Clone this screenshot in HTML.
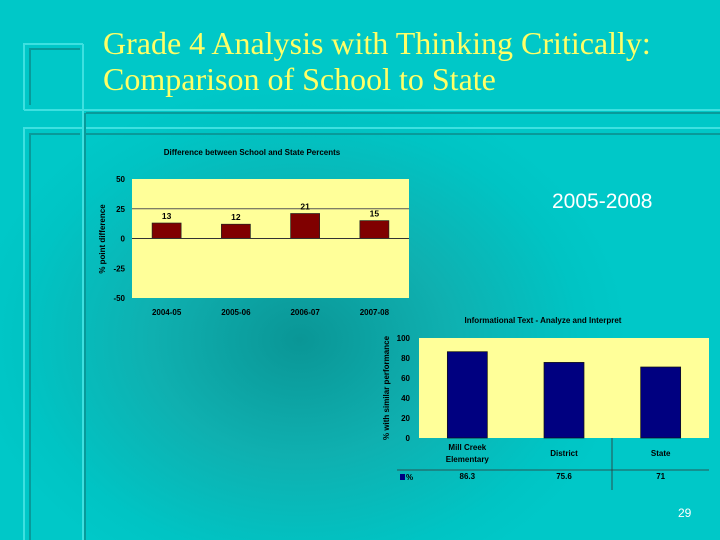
<!DOCTYPE html>
<html><head><meta charset="utf-8"><style>
body{margin:0;width:720px;height:540px;overflow:hidden;font-family:"Liberation Sans",sans-serif}
#bg{position:absolute;left:0;top:0;width:720px;height:540px;background:radial-gradient(ellipse 330px 260px at 300px 340px,#0a9696 0%,#0fb0b0 45%,#00c4c4 85%,#00c8c8 100%)}
.t{position:absolute;font-family:"Liberation Serif",serif;color:#ffff66;font-size:32px;left:103px;line-height:36px;white-space:nowrap}
</style></head><body>
<div id="bg"></div>
<svg width="720" height="540" style="position:absolute;left:0;top:0">
<g fill="none" stroke-width="2">
<path d="M24 110V44H83" stroke="#3ee0e0"/>
<path d="M30 105V49H80" stroke="#089a9a"/>
<path d="M24 110H720" stroke="#3ee0e0"/>
<path d="M86 113H720" stroke="#089a9a"/>
<path d="M24 540V128H720" stroke="#3ee0e0"/>
<path d="M30 540V134H80M86 134H720" stroke="#089a9a"/>
<path d="M83 44V540" stroke="#3ee0e0"/>
<path d="M85 113V540" stroke="#089a9a"/>
</g></svg>
<div class="t" style="top:25px">Grade 4 Analysis with Thinking Critically:</div>
<div class="t" style="top:61px">Comparison of School to State</div>
<div style="position:absolute;left:552px;top:190px;color:#fff;font-size:21px">2005-2008</div>
<div style="position:absolute;left:678px;top:506px;color:#fff;font-size:12px">29</div>
<svg id="c" width="720" height="540" style="position:absolute;left:0;top:0" font-family="Liberation Sans, sans-serif" font-weight="bold"></svg>
<script>
const cats1=["2004-05","2005-06","2006-07","2007-08"];
const vals1=[13,12,21,15];
const ticks1=[50,25,0,-25,-50];
const cats2=[["Mill Creek","Elementary"],["District"],["State"]];
const vals2=[86.3,75.6,71];
const labels2=["86.3","75.6","71"];
const ticks2=[100,80,60,40,20,0];
const svg=document.getElementById('c');
const NS='http://www.w3.org/2000/svg';
function mk(t,a,txt){const e=document.createElementNS(NS,t);for(const k in a)e.setAttribute(k,a[k]);if(txt!==undefined)e.textContent=txt;svg.appendChild(e);return e;}
// chart 1
const x0=132,x1=409,yT=179,yB=298;
const y1=v=>yT+(50-v)/100*(yB-yT);
const bw1=(x1-x0)/cats1.length;
let e=mk('text',{x:252,y:155,'font-size':8,'text-anchor':'middle'},'Difference between School and State Percents');


e=mk('rect',{x:x0,y:yT,width:x1-x0,height:yB-yT,fill:'#ffff99'});


e=mk('line',{x1:x0,x2:x1,y1:y1(25),y2:y1(25),stroke:'#555',"stroke-width":1});


ticks1.forEach(t=>{const l=mk('text',{x:125,y:y1(t)+3,'font-size':8,'text-anchor':'end'},t);

});
e=mk('text',{transform:'translate(105,239) rotate(-90)','font-size':8,'text-anchor':'middle'},'% point difference');


cats1.forEach((c,i)=>{const cx=x0+bw1*(i+0.5);const v=vals1[i];
const b=mk('rect',{x:cx-14.5,y:y1(Math.max(v,0)),width:29,height:Math.abs(y1(v)-y1(0)),fill:'#800000',stroke:'#222','stroke-width':0.7});


const t=mk('text',{x:cx,y:y1(v)-4,'font-size':8.5,'text-anchor':'middle'},v);


const xl=mk('text',{x:cx,y:315,'font-size':8,'text-anchor':'middle'},c);

});
e=mk('line',{x1:x0,x2:x1,y1:y1(0),y2:y1(0),stroke:'#333',"stroke-width":1});


// chart 2
const X0=419,X1=709,YT=338,YB=438;
const y2=v=>YB-v/100*(YB-YT);
const bw2=(X1-X0)/cats2.length;
e=mk('text',{x:543,y:323,'font-size':8,'text-anchor':'middle'},'Informational Text - Analyze and Interpret');


e=mk('rect',{x:X0,y:YT,width:X1-X0,height:YB-YT,fill:'#ffff99'});


ticks2.forEach(t=>{const l=mk('text',{x:410,y:y2(t)+3,'font-size':8,'text-anchor':'end'},t);

});
e=mk('text',{transform:'translate(389,388) rotate(-90)','font-size':8,'text-anchor':'middle'},'% with similar performance');


cats2.forEach((c,i)=>{const cx=X0+bw2*(i+0.5);const v=vals2[i];
const b=mk('rect',{x:cx-20,y:y2(v),width:40,height:y2(0)-y2(v),fill:'#000080',stroke:'#111','stroke-width':0.7});


c.forEach((ln,j)=>{const t=mk('text',{x:cx,y:(c.length>1?450+j*12:456),'font-size':8,'text-anchor':'middle'},ln);

});
const vt=mk('text',{x:cx,y:479,'font-size':8,'text-anchor':'middle'},labels2[i]);

});
e=mk('line',{x1:397,x2:709,y1:470,y2:470,stroke:'#333','stroke-width':0.8});


e=mk('line',{x1:612,x2:612,y1:438,y2:490,stroke:'#333','stroke-width':0.8});


e=mk('rect',{x:400,y:474,width:5,height:6,fill:'#000080'});


e=mk('text',{x:406,y:480,'font-size':8},'%');


</script>
</body></html>
